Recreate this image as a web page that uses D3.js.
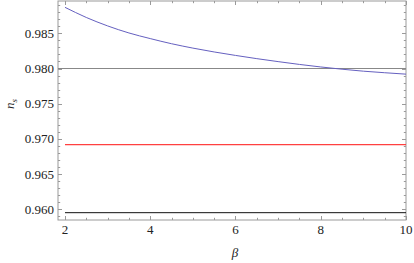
<!DOCTYPE html>
<html><head><meta charset="utf-8">
<script src="https://cdn.jsdelivr.net/npm/d3@7"></script>
<style>body{margin:0;background:#fff}svg{display:block}</style>
</head><body>
<script>
const betaValues = [2,2.5,3,3.5,4,4.5,5,5.5,6,6.5,7,7.5,8,8.5,9,9.5,10];
const nsCurve = [0.98869,0.98725,0.98605,0.98505,0.98425,0.98352,0.98290,0.98235,0.98186,0.98140,0.98098,0.98058,0.98022,0.97990,0.97962,0.97940,0.97920];
const refLine = 0.980;
const redLevel = 0.96918;
const blackLevel = 0.95952;
const xTicks = [2,4,6,8,10];
const yTicks = [0.960,0.965,0.970,0.975,0.980,0.985];

const W=414,H=263;
const L=58,R=406,T=1,B=220;
const svg=d3.select("body").append("svg").attr("width",W).attr("height",H);
const x=d3.scaleLinear().domain([1.836,10]).range([L,R]);
const y=d3.scaleLinear().domain([0.95848,0.98959]).range([B,T]);
const frameCol="#9a9a9a";
const FONT='"Liberation Serif"';

svg.append("rect").attr("x",L).attr("y",T).attr("width",R-L).attr("height",B-T)
  .attr("fill","none").attr("stroke",frameCol).attr("stroke-width",1);

const xMinor=d3.range(2,10.01,0.5);
const yMinor=d3.range(0.959,0.9895,0.001);
const g=svg.append("g").attr("stroke",frameCol).attr("stroke-width",1);
xMinor.forEach(v=>{
  const major=xTicks.some(t=>Math.abs(t-v)<1e-6);
  const len=major?4:2.2;
  const px=Math.round(x(v))+0.5;
  g.append("line").attr("x1",px).attr("x2",px).attr("y1",B).attr("y2",B-len);
  g.append("line").attr("x1",px).attr("x2",px).attr("y1",T).attr("y2",T+len);
});
yMinor.forEach(v=>{
  const major=yTicks.some(t=>Math.abs(t-v)<1e-6);
  const len=major?4:2.2;
  const py=Math.round(y(v))+0.5;
  g.append("line").attr("x1",L).attr("x2",L+len).attr("y1",py).attr("y2",py);
  g.append("line").attr("x1",R).attr("x2",R-len).attr("y1",py).attr("y2",py);
});

svg.append("g").selectAll("text").data(yTicks).join("text")
  .attr("x",L-4).attr("y",d=>y(d)).attr("dy","0.35em").attr("text-anchor","end")
  .style("font-family",FONT).attr("font-size",13).attr("fill","#222").text(d=>d3.format(".3f")(d));
svg.append("g").selectAll("text").data(xTicks).join("text")
  .attr("x",d=>x(d)).attr("y",234).attr("text-anchor","middle")
  .style("font-family",FONT).attr("font-size",13).attr("fill","#222").text(d=>d);

svg.append("text").attr("x",235).attr("y",257).attr("text-anchor","middle")
  .style("font-family",FONT).attr("font-style","italic").attr("font-size",13).attr("fill","#222").text("β");
const yl=svg.append("text").attr("transform","translate(14,104) rotate(-90)").attr("text-anchor","middle")
  .style("font-family",FONT).attr("font-style","italic").attr("font-size",13).attr("fill","#222");
yl.append("tspan").text("n");
yl.append("tspan").attr("font-size",9).attr("dy",3).text("s");

svg.append("line").attr("x1",L).attr("x2",R).attr("y1",y(refLine)).attr("y2",y(refLine))
  .attr("stroke","#888").attr("stroke-width",1);
svg.append("line").attr("x1",x(2)).attr("x2",x(10)).attr("y1",y(redLevel)).attr("y2",y(redLevel))
  .attr("stroke","#ff4040").attr("stroke-width",1.2);
svg.append("line").attr("x1",x(2)).attr("x2",x(10)).attr("y1",y(blackLevel)).attr("y2",y(blackLevel))
  .attr("stroke","#111").attr("stroke-width",1);
const line=d3.line().x((d,i)=>x(betaValues[i])).y(d=>y(d)).curve(d3.curveMonotoneX);
svg.append("path").datum(nsCurve).attr("d",line).attr("fill","none")
  .attr("stroke","#6560c0").attr("stroke-width",1);
</script>
</body></html>
